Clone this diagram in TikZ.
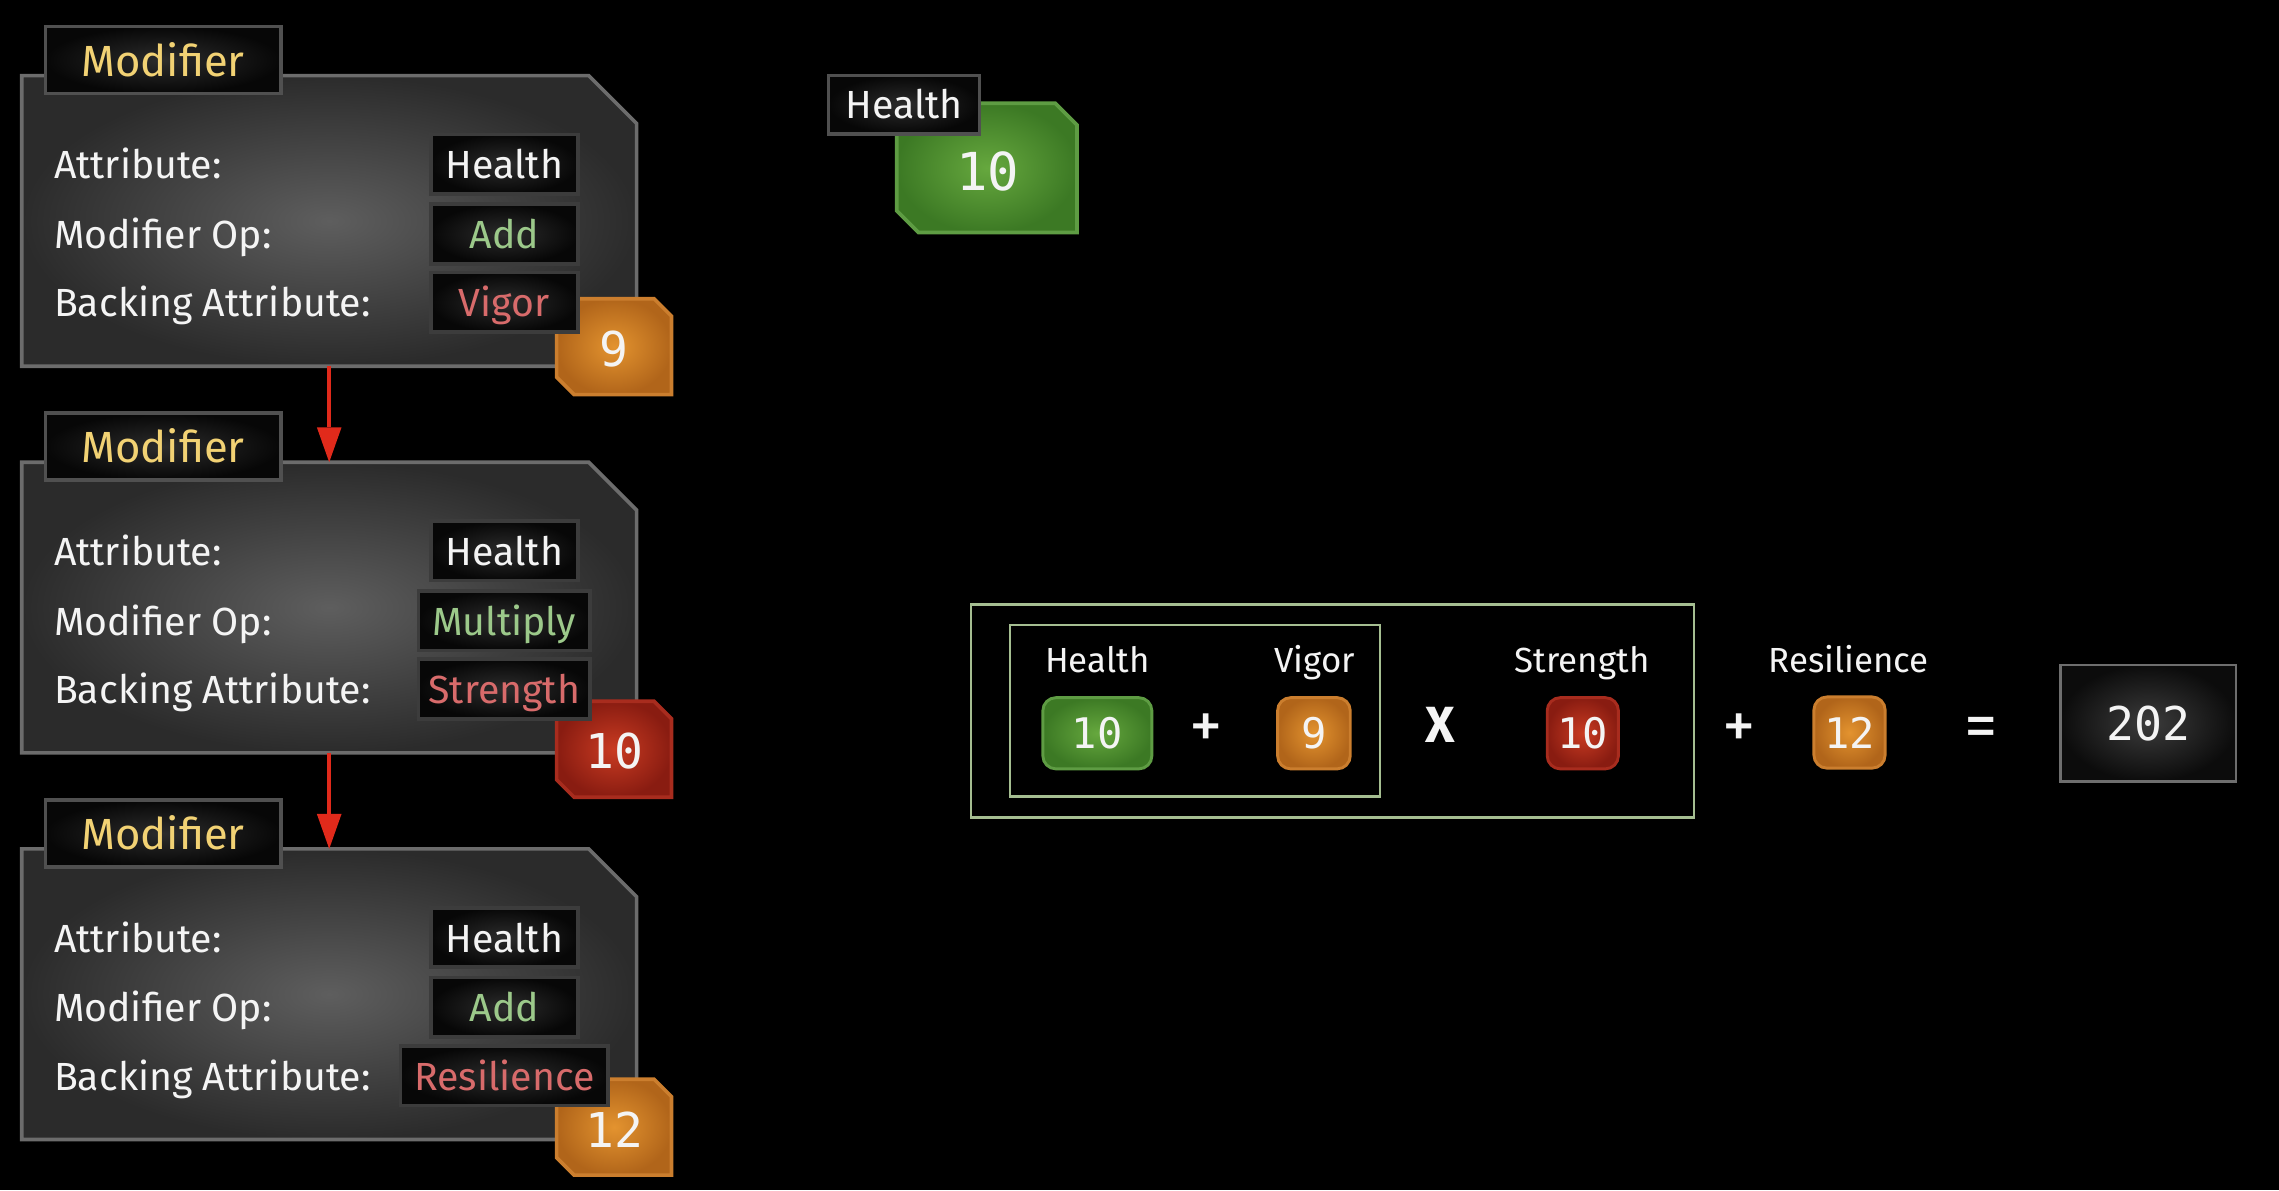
\documentclass[tikz,border=0pt]{standalone}
\usepackage{fontspec}
\setmainfont{Fira Sans}
\newfontfamily\badgemono{DejaVu Sans Mono}
\usetikzlibrary{arrows.meta}

\definecolor{panelin}{HTML}{5E5E5E}
\definecolor{panelout}{HTML}{2B2B2B}
\definecolor{panelrim}{HTML}{6C6C6C}
\definecolor{boxin}{HTML}{2C2C2C}
\definecolor{boxout}{HTML}{070707}
\definecolor{boxrim}{HTML}{3C3C3C}
\definecolor{tabrim}{HTML}{505050}
\definecolor{modyellow}{HTML}{F2D274}
\definecolor{opgreen}{HTML}{9CC98A}
\definecolor{backred}{HTML}{D86B6B}
\definecolor{txtwhite}{HTML}{F4F4F4}
\definecolor{orangein}{HTML}{E3932F}
\definecolor{orangeout}{HTML}{B1651A}
\definecolor{orangerim}{HTML}{CB7E2E}
\definecolor{redin}{HTML}{C93B22}
\definecolor{redout}{HTML}{891C11}
\definecolor{redrim}{HTML}{A82C1E}
\definecolor{greenin}{HTML}{66A83E}
\definecolor{greenout}{HTML}{3C7924}
\definecolor{greenrim}{HTML}{5E9C43}
\definecolor{framegreen}{HTML}{A5BE91}
\definecolor{flowred}{HTML}{E12A1B}
\definecolor{resin}{HTML}{3C3C3C}
\definecolor{resout}{HTML}{0C0C0C}
\definecolor{resrim}{HTML}{6E6E6E}

\newcommand{\rowsize}{\fontsize{27}{32}\selectfont}
\newcommand{\tabsize}{\fontsize{30}{36}\selectfont}
\newcommand{\capsize}{\fontsize{24}{28}\selectfont}
\newcommand{\signsize}{\fontsize{35}{40}\selectfont\bfseries}
\newcommand{\plussize}{\fontsize{46}{50}\selectfont}
\newcommand{\badgesize}{\badgemono\fontsize{33}{38}\selectfont}
\newcommand{\chipsize}{\badgemono\fontsize{29}{34}\selectfont}
\newcommand{\bigsize}{\badgemono\fontsize{36}{42}\selectfont}
\newcommand{\totalsize}{\badgemono\fontsize{32}{38}\selectfont}

\tikzset{
	panel/.style={inner color=panelin, outer color=panelout, draw=panelrim, line width=2.5pt},
	spot/.style={inner sep=0pt, outer sep=0pt, minimum width=423pt, minimum height=200pt},
	tabbox/.style={inner color=boxin, outer color=boxout, draw=tabrim, line width=2.5pt,
		inner sep=0pt, minimum width=162, minimum height=46, text height=22pt, text depth=0pt,
		font=\tabsize, text=modyellow},
	field/.style={inner color=boxin, outer color=boxout, draw=boxrim, line width=2.5pt,
		inner xsep=4pt, inner ysep=0pt, minimum width=101, minimum height=41,
		text height=20pt, text depth=0pt, font=\rowsize, text=txtwhite},
	rowlabel/.style={anchor=base west, inner sep=0pt, font=\rowsize, text=txtwhite},
	badge/.style={line width=2.5pt, inner color=#1in, outer color=#1out, draw=#1rim},
	numtxt/.style={inner sep=0pt, font=\badgesize, text=txtwhite},
	chip/.style={rounded corners=9pt, line width=2pt, inner color=#1in, outer color=#1out,
		draw=#1rim, inner sep=0pt, minimum height=49, font=\chipsize, text=txtwhite},
	caplabel/.style={anchor=base, inner sep=0pt, font=\capsize, text=txtwhite},
	opsign/.style={inner sep=0pt, font=\signsize, text=txtwhite},
	formframe/.style={draw=framegreen, line width=1.8pt},
	totalbox/.style={inner color=resin, outer color=resout, draw=resrim, line width=1.8pt,
		minimum width=121, minimum height=80, font=\totalsize, text=txtwhite},
	flow/.style={draw=flowred, line width=2.5pt,
		-{Triangle[length=24pt,width=17pt,fill=flowred,line width=0pt]}}
}

\begin{document}
\begin{tikzpicture}[x=1pt,y=-1pt]
	\useasboundingbox (0,0) rectangle (1568,819);
	\fill[black] (0,0) rectangle (1568,819);

	% the three modifiers
	\foreach \i/\y/\op/\back/\ow/\bw/\bc/\num/\by in
		{1/0/Add/Vigor/101/101/orange/9/0,
		 2/266/Multiply/Strength/118/118/red/10/277,
		 3/532/Add/Resilience/101/143/orange/12/537}{
		\draw[panel] (15,52+\y) -- (405,52+\y) -- (438,85+\y) -- (438,252+\y) -- (15,252+\y) -- cycle
			node[spot] (mod\i) at (226.5,152+\y) {};
		\draw[badge=\bc] (383,205.5+\by) -- (450,205.5+\by) -- (462,217.5+\by) -- (462,271.5+\by)
			-- (395,271.5+\by) -- (383,259.5+\by) -- cycle
			node[numtxt] (num\i) at (422.5,240+\by) {\num};

		\node[rowlabel] (att\i) at (37,123+\y) {Attribute:};
		\node[rowlabel] (opl\i) at (37,171+\y) {Modifier Op:};
		\node[rowlabel] (bkl\i) at (37,218+\y) {Backing Attribute:};

		\node[field] (attv\i) at (347,113+\y) {Health};
		\node[field, minimum width=\ow, text=opgreen] (opv\i) at (347,161+\y) {\op};
		\node[field, minimum width=\bw, text=backred] (bkv\i) at (347,208+\y) {\back};

		\node[tabbox] (tab\i) at (112.2,41.3+\y) {Modifier};
	}

	\path[flow] (mod1) edge (mod2) (mod2) edge (mod3);

	% attribute value
	\draw[badge=green] (617,71) -- (726,71) -- (741,86) -- (741,160) -- (632,160) -- (617,145) -- cycle
		node[numtxt, font=\bigsize] (hp) at (679.5,118) {10};
	\node[tabbox, minimum width=104, minimum height=40, text height=19pt, font=\rowsize,
		text=txtwhite] (hptab) at (622,72) {Health};

	% formula
	\draw[formframe] (668,416) rectangle (1165.5,562.5);
	\draw[formframe] (695,430) rectangle (949.5,548);

	\node[caplabel] (lhealth) at (755,463) {Health};
	\node[caplabel] (lvigor) at (904.5,463) {Vigor};
	\node[caplabel] (lstrength) at (1088.5,463) {Strength};
	\node[caplabel] (lresil) at (1272,463) {Resilience};

	\node[chip=green, minimum width=75] (chealth) at (755,504.5) {10};
	\node[chip=orange, minimum width=50] (cvigor) at (904,504.5) {9};
	\node[chip=red, minimum width=49] (cstrength) at (1089,504.5) {10};
	\node[chip=orange, minimum width=49] (cresil) at (1272.5,504) {12};

	\node[opsign, font=\plussize] (plusa) at (830,503) {+};
	\node[opsign] (times) at (991,499) {X};
	\node[opsign, font=\plussize] (plusb) at (1196.5,503) {+};
	\node[opsign, font=\plussize] (equals) at (1363,504) {=};

	\node[totalbox] (total) at (1478,497.5) {202};
\end{tikzpicture}
\end{document}
